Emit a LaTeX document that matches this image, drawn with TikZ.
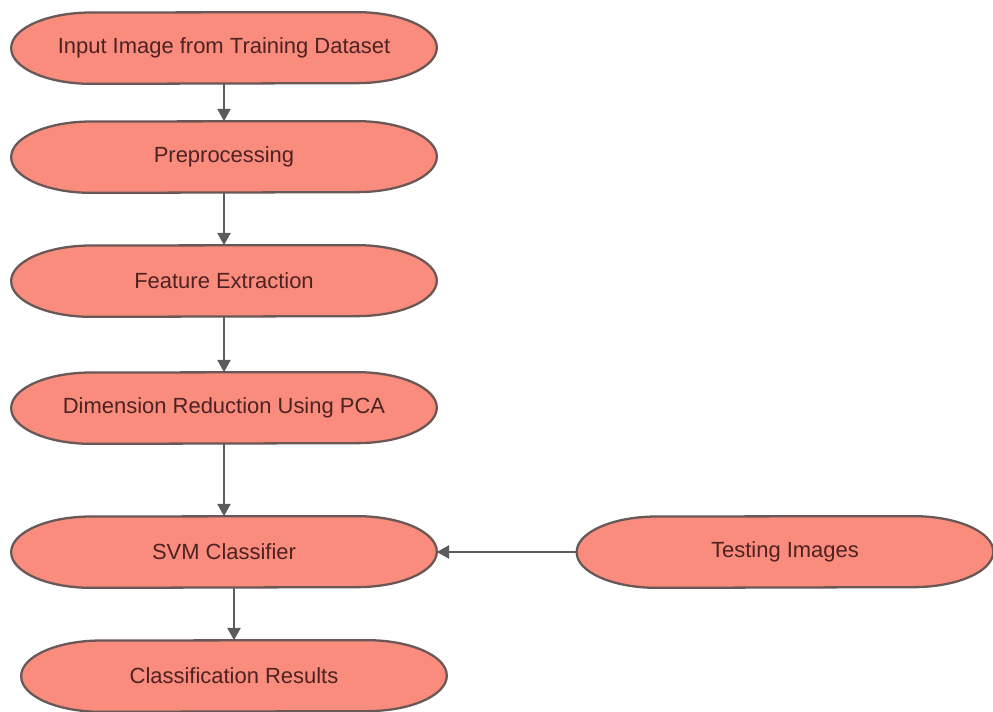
\documentclass[tikz,border=0pt]{standalone}
\usepackage{fontspec}
\setmainfont{Liberation Sans}
\usetikzlibrary{arrows.meta, calc}
\usepackage{xcolor}

\definecolor{pillfill}{RGB}{249,140,125}
\definecolor{pillline}{RGB}{105,88,86}
\definecolor{pilltext}{RGB}{78,34,34}
\definecolor{arrowgray}{RGB}{92,92,92}

\pgfdeclarelayer{background}
\pgfsetlayers{background,main}

% outline with flat top/bottom and elliptic ends, drawn round a named node
\newcommand{\pillshape}[1]{%
	\path[pill] (#1.west) arc[start angle=180, end angle=90, x radius=1.6cm, y radius=0.71cm]
		-- ($(#1.north east)+(-1.6cm,0)$)
		arc[start angle=90, end angle=-90, x radius=1.6cm, y radius=0.71cm]
		-- ($(#1.south west)+(1.6cm,0)$)
		arc[start angle=270, end angle=180, x radius=1.6cm, y radius=0.71cm] -- cycle;}

\begin{document}
\begin{tikzpicture}[x=0.02cm, y=0.02cm,
		every node/.style={font=\fontsize{12.5}{15}\selectfont, text=pilltext},
		step box/.style={shape=rectangle, inner sep=0pt, minimum width=8.5cm, minimum height=1.42cm},
		pill/.style={fill=pillfill, draw=pillline, line width=1.3pt, line join=round},
		flow/.style={draw=arrowgray, line width=1.1pt, -{Triangle[length=7pt, width=7.5pt]}}]
		\useasboundingbox (0,0) rectangle (993,711);
		
		\node[step box] (inp) at (224,663) {Input Image from Training Dataset};
		\node[step box] (pre) at (224,554) {Preprocessing};
		\node[step box] (feat) at (224,430) {Feature Extraction};
		\node[step box] (dim) at (224,303) {Dimension Reduction Using PCA};
		\node[step box] (svm) at (224,159) {SVM Classifier};
		\node[step box] (res) at (234,35) {Classification Results};
		\node[step box, minimum width=8.32cm] (test) at (785,159) {Testing Images};
		
		\begin{pgfonlayer}{background}
			\foreach \n in {inp,pre,feat,dim,svm,res,test}
				\pillshape{\n};
		\end{pgfonlayer}
		
		\draw[flow] (inp) -- (pre);
		\draw[flow] (pre) -- (feat);
		\draw[flow] (feat) -- (dim);
		\draw[flow] (dim) -- (svm);
		\draw[flow] (res.north |- svm.south) -- (res);
		\draw[flow] (test) -- (svm);
	\end{tikzpicture}
\end{document}
